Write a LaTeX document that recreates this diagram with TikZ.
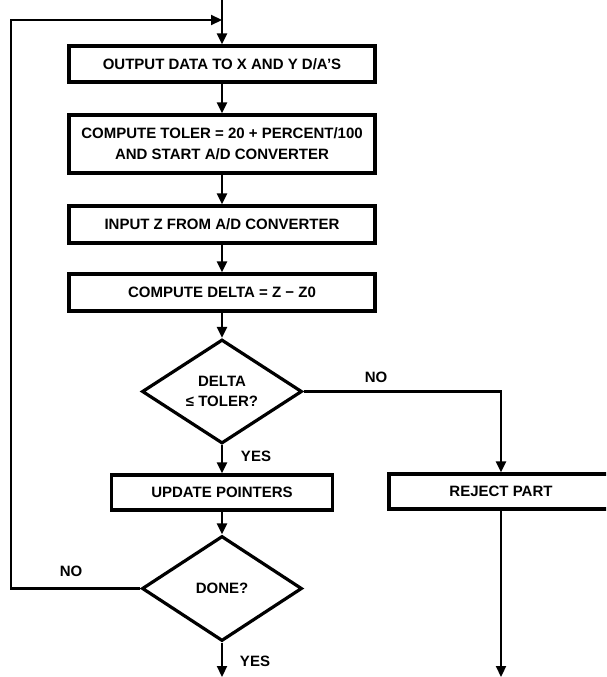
\documentclass[tikz,border=0pt]{standalone}
\usepackage{fontspec}
\setmainfont{Liberation Sans}
\usetikzlibrary{arrows.meta,positioning,shapes.geometric}
\tikzset{
  process/.style={draw=black,line width=3.2pt,minimum width=306pt,minimum height=37pt,inner sep=4pt,align=center,font=\bfseries\fontsize{15}{21}\selectfont},
  decision/.style={draw=black,diamond,line width=3.2pt,aspect=1.55,inner sep=0pt,minimum width=160pt,minimum height=104pt,align=center,font=\bfseries\fontsize{15}{20}\selectfont},
  flow/.style={-{Triangle[length=11pt,width=10pt]},line width=2.2pt},
  tag/.style={font=\bfseries\fontsize{15}{18}\selectfont},
}

\begin{document}
\begin{tikzpicture}[x=1pt,y=-1pt]
    \useasboundingbox (0,0) rectangle (606,677);
    \clip (0,0) rectangle (606,677);
    \node[process,minimum height=36pt] (out) at (222,64) {OUTPUT DATA TO X AND Y D/A’S};
    \node[process,minimum height=58pt] (toler) at (222,144) {COMPUTE TOLER = 20 + PERCENT/100\\AND START A/D CONVERTER};
    \node[process] (inz) at (222,224.5) {INPUT Z FROM A/D CONVERTER};
    \node[process] (dz) at (222,292.5) {COMPUTE DELTA = Z − Z0};
    \node[decision] (chk) at (222,391.5) {DELTA\\≤ TOLER?};
    \node[process,minimum width=221pt,minimum height=35pt] (upd) at (222,492.5) {UPDATE POINTERS};
    \node[process,minimum width=224pt,minimum height=35pt] (rej) at (501,491.5) {REJECT PART};
    \node[decision,minimum height=105pt] (done) at (222,588.5) {DONE?};
    \node[tag] (no1) at (376,377) {NO};
    \node[tag] (yes1) at (256,456) {YES};
    \node[tag] (no2) at (71,571) {NO};
    \node[tag] (yes2) at (255,661) {YES};
    \coordinate (entry) at (222,0);
    \coordinate (join) at (222,20);
    \coordinate (loop) at (11,588.5);
    \coordinate (stop) at (222,677);
    \coordinate (rejstop) at (501,677);
    \draw[flow] (entry) -- (out.north);
    \draw[flow] (out) -- (toler); \draw[flow] (toler) -- (inz);
    \draw[flow] (inz) -- (dz); \draw[flow] (dz) -- (chk);
    \draw[flow] (chk.east) -| (rej.north);
    \draw[flow] (chk) -- (upd); \draw[flow] (upd) -- (done);
    \draw[flow] (done.west) -- (loop) |- (join);
    \draw[flow] (done.south) -- (stop);
    \draw[flow] (rej.south) -- (rejstop);
  \end{tikzpicture}
\end{document}
